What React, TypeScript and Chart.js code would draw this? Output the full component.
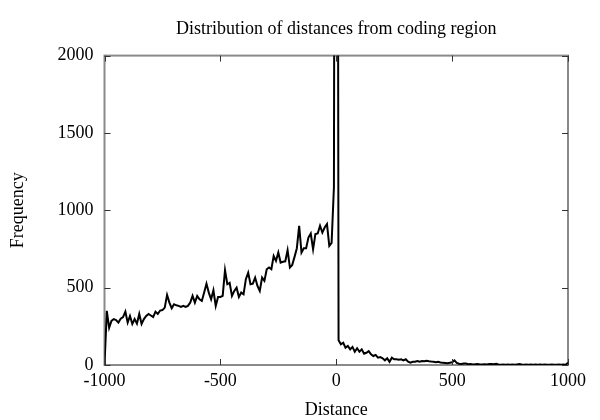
import { useEffect, useRef } from "react";
import { Chart, registerables } from "chart.js";

Chart.register(...registerables);

const TITLE = "Distribution of distances from coding region";
const X_LABEL = "Distance";
const Y_LABEL = "Frequency";

const BIN_START = -1000;
const BIN_WIDTH = 10;

// Frequencies for bins -1000 .. 0 (step 10)
const FREQ_UPSTREAM = [
  0, 350, 240, 285, 297, 290, 274, 300, 310, 345,
  274, 317, 265, 297, 267, 330, 265, 297, 317, 330,
  320, 310, 345, 330, 352, 355, 371, 453, 403, 367,
  393, 386, 382, 375, 382, 375, 382, 403, 447, 403,
  447, 425, 414, 468, 526, 468, 425, 483, 382, 440,
  440, 447, 613, 522, 531, 447, 479, 500, 440, 468,
  457, 555, 597, 522, 526, 565,
  511, 479, 565, 544, 619, 630, 619, 705, 673, 727,
  662, 667, 670, 742, 630, 647, 699, 755, 900, 727,
  755, 755, 824, 850, 748, 846, 850, 900, 856, 889,
  911, 770, 790, 1150, 10000,
];

// Frequencies for bins 10 .. 1000 (step 10)
const FREQ_DOWNSTREAM = [
  160, 134, 144, 112, 123, 101, 117, 86, 108, 86,
  101, 73, 79, 90, 69, 58, 65, 47, 51, 43,
  30, 43, 21, 47, 37, 37, 34, 37, 30, 37,
  21, 15, 21, 21, 26, 21, 26, 24,
  28, 24, 22, 21, 18, 21, 16, 15, 13, 11, 14,
  18, 30, 14, 8, 6, 10, 9, 5, 6, 4,
  5, 6, 4, 3, 5, 4, 6, 7, 5, 8,
  3, 2, 3, 2, 3, 2, 3, 2, 4, 6,
  3, 2, 3, 2, 3, 2, 3, 2, 3, 2,
  3, 2, 2, 3, 2, 2, 3, 2, 3, 2,
  15,
];

const X_TICKS = [-1000, -500, 0, 500, 1000];
const Y_TICKS = [0, 500, 1000, 1500, 2000];

const FONT_FAMILY = "'Liberation Serif', 'Times New Roman', serif";

const framePlugin = {
  id: "frame",
  beforeDatasetsDraw(chart: any) {
    const { ctx, chartArea } = chart;
    const { left, right, top, bottom } = chartArea;
    ctx.save();
    ctx.strokeStyle = "#8a8a8a";
    ctx.lineWidth = 2;
    ctx.strokeRect(left, top, right - left, bottom - top);
    ctx.restore();
  },
  afterDatasetsDraw(chart: any) {
    const { ctx, chartArea, scales } = chart;
    const { left, right, top, bottom } = chartArea;
    const len = 6;
    ctx.save();
    ctx.strokeStyle = "#333";
    ctx.lineWidth = 1;
    ctx.beginPath();
    for (const v of X_TICKS) {
      const px = Math.round(scales.x.getPixelForValue(v)) + 0.5;
      ctx.moveTo(px, bottom);
      ctx.lineTo(px, bottom - len);
      ctx.moveTo(px, top);
      ctx.lineTo(px, top + len);
    }
    for (const v of Y_TICKS) {
      const py = Math.round(scales.y.getPixelForValue(v)) + 0.5;
      ctx.moveTo(left, py);
      ctx.lineTo(left + len, py);
      ctx.moveTo(right, py);
      ctx.lineTo(right - len, py);
    }
    ctx.stroke();
    ctx.restore();
  },
};

export default function App() {
  const canvasRef = useRef<HTMLCanvasElement | null>(null);

  useEffect(() => {
    const canvas = canvasRef.current;
    if (!canvas) return;
    const freqs = [...FREQ_UPSTREAM, ...FREQ_DOWNSTREAM];
    const points = freqs.map((f, i) => ({ x: BIN_START + i * BIN_WIDTH, y: f }));

    const tickFont = { family: FONT_FAMILY, size: 18, lineHeight: 1 };

    const chart = new Chart(canvas, {
      type: "line",
      data: {
        datasets: [
          {
            data: points,
            borderColor: "#000",
            borderWidth: 2,
            pointRadius: 0,
            tension: 0,
            fill: false,
          },
        ],
      },
      options: {
        responsive: false,
        animation: false,
        devicePixelRatio: 1,
        layout: { padding: { left: 0, right: 32, top: 0, bottom: 0 } },
        plugins: {
          legend: { display: false },
          tooltip: { enabled: false },
          title: {
            display: true,
            text: TITLE,
            color: "#000",
            fullSize: false,
            font: { family: FONT_FAMILY, size: 18, weight: "normal" },
            padding: { top: 18, bottom: 16 },
          },
        },
        scales: {
          x: {
            type: "linear",
            min: -1000,
            max: 1000,
            afterBuildTicks: (axis: any) => {
              axis.ticks = X_TICKS.map((v) => ({ value: v }));
            },
            grid: { display: false, drawTicks: false },
            border: { display: false },
            ticks: {
              color: "#000",
              font: tickFont,
              padding: 7,
              maxRotation: 0,
              autoSkip: false,
              callback: (v: any) => String(v),
            },
            title: {
              display: true,
              text: X_LABEL,
              color: "#000",
              font: tickFont,
              padding: { top: 4, bottom: 1 },
            },
          },
          y: {
            type: "linear",
            min: 0,
            max: 2000,
            afterBuildTicks: (axis: any) => {
              axis.ticks = Y_TICKS.map((v) => ({ value: v }));
            },
            grid: { display: false, drawTicks: false },
            border: { display: false },
            ticks: {
              color: "#000",
              font: tickFont,
              padding: 11,
              callback: (v: any) => String(v),
            },
            title: {
              display: true,
              text: Y_LABEL,
              color: "#000",
              font: tickFont,
              padding: { top: 9, bottom: 19.5 },
            },
          },
        },
      },
      plugins: [framePlugin],
    });

    return () => {
      chart.destroy();
    };
  }, []);

  return (
    <div style={{ position: "absolute", left: 0, top: 0, width: 600, height: 420, background: "#fff" }}>
      <canvas ref={canvasRef} width={600} height={420} />
    </div>
  );
}
